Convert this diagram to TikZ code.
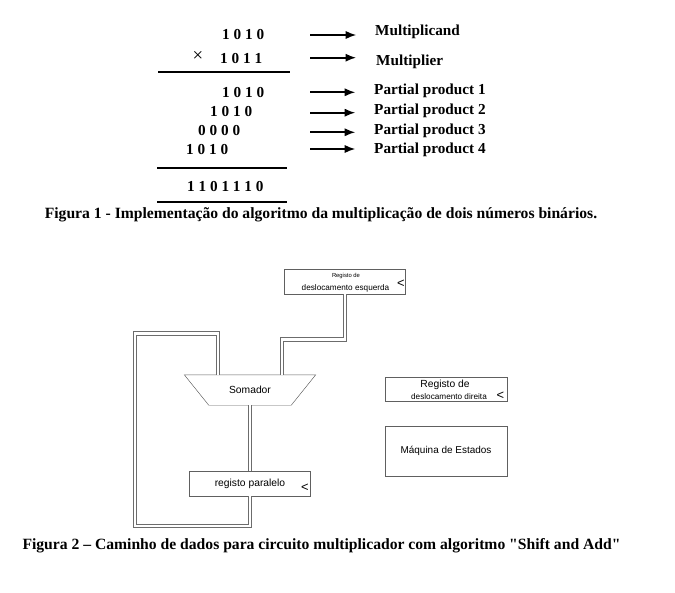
\documentclass[tikz,border=0pt]{standalone}
\usepackage{fontspec}
\setmainfont{Liberation Serif}
\setsansfont{Liberation Sans}
\newfontfamily\capfont{Liberation Serif}
\usetikzlibrary{arrows.meta,calc}

\tikzset{
  num/.style={font=\fontsize{13}{15}\selectfont\bfseries, anchor=base west, inner sep=0pt},
  lbl/.style={font=\fontsize{13}{15}\selectfont\bfseries, anchor=base west, inner sep=0pt},
  figcap/.style={font=\capfont\fontsize{13.35}{15}\selectfont\bfseries, anchor=base, inner sep=0pt},
  rule/.style={line width=1.6pt},
  ptr/.style={-{Latex[length=9pt,width=7pt]}, line width=1.4pt},
  reg/.style={draw=gray!75!black, rectangle, inner sep=0pt, align=center, font=\sffamily},
  regtxt/.style={inner sep=0pt, font=\sffamily},
  clk/.style={font=\sffamily\fontsize{11}{11}\selectfont, inner sep=0pt},
  bus/.style={draw=gray!85!black, double=white, double distance=2.4pt, line width=0.9pt},
}

\begin{document}
\begin{tikzpicture}[x=0.03cm, y=-0.03cm]
\useasboundingbox (0,0) rectangle (675,593);

% Figura 1: the multiplication
\node [num] (N1) at (222,39.3) {1 0 1 0};
\node [font=\fontsize{16}{16}\selectfont, inner sep=0pt] (X) at (198,56) {×};
\node [num] (N2) at (220,63.3) {1 0 1 1};
\node [num] (N3) at (222,97.3) {1 0 1 0};
\node [num] (N4) at (210,116.7) {1 0 1 0};
\node [num] (N5) at (198,135) {0 0 0 0};
\node [num] (N6) at (186,154.3) {1 0 1 0};
\node [num] (N7) at (187,191.7) {1 1 0 1 1 1 0};

\draw [rule] (158,72.3) -- (290,72.3);
\draw [rule] (157,168.3) -- (287,168.3);
\draw [rule] (157,202.3) -- (287,202.3);

\node [lbl] (L1) at (375,35.7) {Multiplicand};
\node [lbl] (L2) at (376,65.7) {Multiplier};
\node [lbl] (L3) at (374,95) {Partial product 1};
\node [lbl] (L4) at (374,115) {Partial product 2};
\node [lbl] (L5) at (374,134.3) {Partial product 3};
\node [lbl] (L6) at (374,153.3) {Partial product 4};

\coordinate (a1) at (310,35);
\coordinate (a2) at (310,57.7);
\coordinate (a3) at (310,92.3);
\coordinate (a4) at (310,112.7);
\coordinate (a5) at (310,132.3);
\coordinate (a6) at (310,149);
\draw [ptr, shorten >=16pt] (a1) -- (a1 -| L1.west);
\draw [ptr, shorten >=17pt] (a2) -- (a2 -| L2.west);
\draw [ptr, shorten >=16pt] (a3) -- (a3 -| L3.west);
\draw [ptr, shorten >=16pt] (a4) -- (a4 -| L4.west);
\draw [ptr, shorten >=16pt] (a5) -- (a5 -| L5.west);
\draw [ptr, shorten >=16pt] (a6) -- (a6 -| L6.west);

\node [figcap] (C1) at (321,218.5) {Figura 1 - Implementação do algoritmo da multiplicação de dois números binários.};

% Figura 2: datapath
\node [reg, minimum width=3.63cm, minimum height=0.75cm] (E) at (345,281.5) {};
\node [regtxt, font=\sffamily\fontsize{5}{6}\selectfont] (Et) at ($(E.center)+(1,-5.5)$) {Registo de};
\node [regtxt, font=\sffamily\fontsize{7}{8}\selectfont] (Eb) at ($(E.center)+(0.5,7)$) {deslocamento esquerda};
\node [clk] (Ek) at (401,284) {<};

\node [minimum width=3.93cm, minimum height=0.9cm, inner sep=0pt,
  font=\sffamily\fontsize{8.8}{10}\selectfont] (S) at (250,390) {Somador};
\draw [draw=gray!75!black] (S.north west) -- (S.north east) -- ($(S.south east)+(-24.5,0)$)
  -- ($(S.south west)+(24.5,0)$) -- cycle;

\node [reg, minimum width=3.63cm, minimum height=0.75cm, font=\sffamily\fontsize{8.8}{10}\selectfont]
  (P) at (250,483.5) {registo paralelo};
\node [clk] (Pk) at (305,487.5) {<};

\node [reg, minimum width=3.66cm, minimum height=0.72cm] (R) at (446,389) {};
\node [regtxt, font=\sffamily\fontsize{8.8}{10}\selectfont] (Rt) at ($(R.center)+(-1,-4.5)$) {Registo de};
\node [regtxt, font=\sffamily\fontsize{7}{8}\selectfont] (Rb) at ($(R.center)+(3,8)$) {deslocamento direita};
\node [clk] (Rk) at (500.5,395.5) {<};

\node [reg, minimum width=3.66cm, minimum height=1.5cm, font=\sffamily\fontsize{8.5}{10}\selectfont]
  (M) at (446,451) {Máquina de Estados};

\draw [bus] (E.south) -- ++(0,45) -| ($(S.north)+(32,0)$);
\draw [bus] ($(S.north)+(-32,0)$) -- ++(0,-41) -| (135,526) -| (P.south);
\draw [bus] (S.south) -- (P.north);

\node [figcap] (C2) at (321.5,549.5) {Figura 2 – Caminho de dados para circuito multiplicador com algoritmo "Shift and Add"};
\end{tikzpicture}
\end{document}
